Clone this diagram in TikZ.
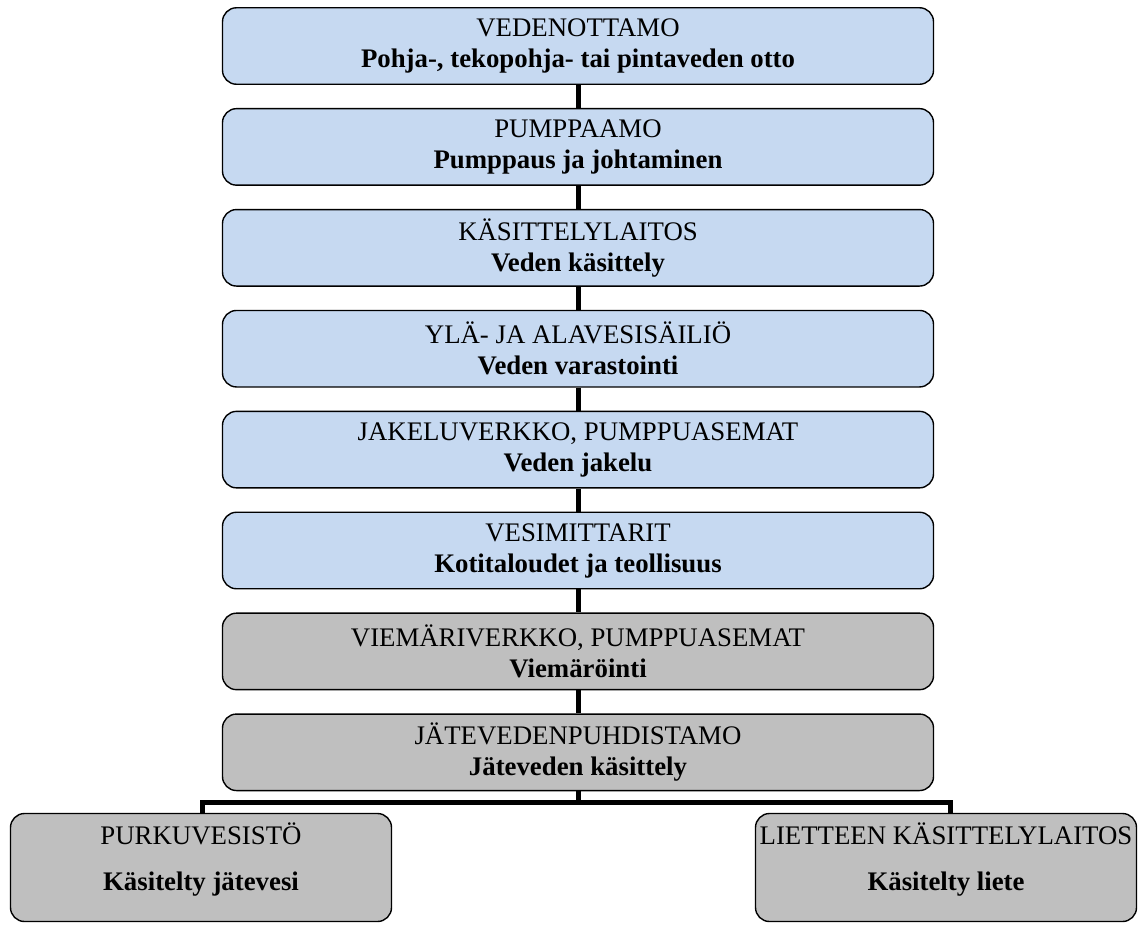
\documentclass[tikz,border=0pt]{standalone}
\usepackage{fontspec}
\setmainfont{Liberation Serif}
\usetikzlibrary{positioning}
\definecolor{vesisin}{HTML}{C6D9F1}
\definecolor{jateharmaa}{HTML}{BFBFBF}
\tikzset{
  vaihe/.style={draw, line width=1.4pt, rounded corners=14pt, minimum width=711pt,
    minimum height=76.5pt, align=center, inner sep=0pt,
    font=\fontsize{26.8}{31}\selectfont},
  vesi/.style={vaihe, fill=vesisin},
  jate/.style={vaihe, fill=jateharmaa},
  loppu/.style={jate, minimum width=381pt, minimum height=108pt, text depth=21pt},
  yhteys/.style={line width=5pt}
}
\begin{document}
\begin{tikzpicture}[x=1pt, y=1pt, node distance=23pt]
  \useasboundingbox (0,0) rectangle (1139,-924);
  \node[vesi] (otto) at (578,-46) {VEDENOTTAMO\\\textbf{Pohja-, tekopohja- tai pintaveden otto}};
  \node[vesi, below=of otto] (pumppaamo) {PUMPPAAMO\\\textbf{Pumppaus ja johtaminen}};
  \node[vesi, below=of pumppaamo] (kasittely) {KÄSITTELYLAITOS\\\textbf{Veden käsittely}};
  \node[vesi, below=of kasittely] (sailio) {YLÄ- JA ALAVESISÄILIÖ\\\textbf{Veden varastointi}};
  \node[vesi, below=of sailio] (jakelu) {JAKELUVERKKO, PUMPPUASEMAT\\\textbf{Veden jakelu}};
  \node[vesi, below=of jakelu] (mittarit) {VESIMITTARIT\\\textbf{Kotitaloudet ja teollisuus}};
  \node[jate, below=of mittarit] (viemari) {VIEMÄRIVERKKO, PUMPPUASEMAT\\\textbf{Viemäröinti}};
  \node[jate, below=of viemari] (puhdistamo) {JÄTEVEDENPUHDISTAMO\\\textbf{Jäteveden käsittely}};
  \node[loppu] (purku) at (201,-867.5) {PURKUVESISTÖ\\[15pt]\textbf{Käsitelty jätevesi}};
  \node[loppu] (liete) at (946,-867.5) {LIETTEEN KÄSITTELYLAITOS\\[15pt]\textbf{Käsitelty liete}};
  % yhdysviivat
  \foreach \a/\b in {otto/pumppaamo, pumppaamo/kasittely, kasittely/sailio, sailio/jakelu,
      jakelu/mittarit, mittarit/viemari, viemari/puhdistamo}
    \draw[yhteys] (\a.south) -- (\b.north);
  \coordinate[below=11pt of puhdistamo.south] (haara);
  \draw[yhteys] (puhdistamo.south) -- (haara);
  \draw[yhteys] ([xshift=1pt]purku.north) |- (haara) -| ([xshift=4pt]liete.north);
\end{tikzpicture}
\end{document}
